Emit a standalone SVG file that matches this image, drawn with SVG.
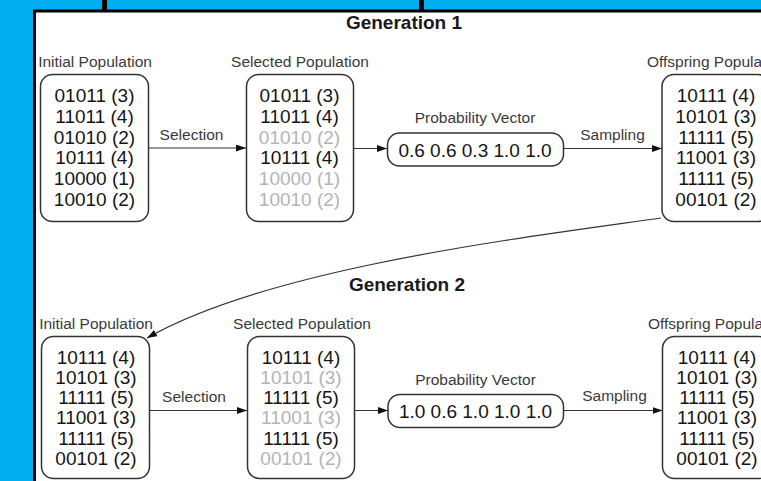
<svg xmlns="http://www.w3.org/2000/svg" width="761" height="481" viewBox="0 0 761 481">
  <style>
    .box { fill: #ffffff; stroke: #333333; stroke-width: 1.5; }
    .lbl { font-family: "Liberation Sans", Arial, sans-serif; font-size: 15.5px; fill: #3a3a3a; text-anchor: middle; }
    .row { font-family: "Liberation Sans", Arial, sans-serif; font-size: 19px; fill: #151515; text-anchor: middle; }
    .dim { fill: #b4b4b4; }
    .gen { font-family: "Liberation Sans", Arial, sans-serif; font-size: 19px; font-weight: bold; fill: #1a1a1a; text-anchor: middle; }
    .edge { fill: none; stroke: #333333; stroke-width: 1.2; }
  </style>
  <defs>
    <marker id="head" viewBox="0 0 10 7" refX="10" refY="3.5" markerWidth="10" markerHeight="7" markerUnits="userSpaceOnUse" orient="auto">
      <path d="M0,0 L10,3.5 L0,7 z" fill="#111111"/>
    </marker>
  </defs>

  <!-- backdrop and frame -->
  <rect x="0" y="0" width="761" height="481" fill="#00adee"/>
  <rect x="102" y="0" width="5" height="11" fill="#000000"/>
  <rect x="419" y="0" width="5" height="11" fill="#000000"/>
  <rect x="34.5" y="11" width="800" height="520" fill="#ffffff" stroke="#000000" stroke-width="3"/>

  <!-- generation titles -->
  <text class="gen" x="404" y="28.5">Generation 1</text>
  <text class="gen" x="407" y="290.5">Generation 2</text>

  <!-- connectors -->
  <g id="connectors">
    <line class="edge" x1="148.5" y1="148" x2="246" y2="148" marker-end="url(#head)"/>
    <line class="edge" x1="353.5" y1="148.5" x2="387" y2="148.5" marker-end="url(#head)"/>
    <line class="edge" x1="563.5" y1="148.5" x2="662" y2="148.5" marker-end="url(#head)"/>
    <path class="edge" d="M661,218 C520,238 270,268 147,338" marker-end="url(#head)"/>
    <line class="edge" x1="149.5" y1="410.5" x2="247" y2="410.5" marker-end="url(#head)"/>
    <line class="edge" x1="355" y1="410.5" x2="388" y2="410.5" marker-end="url(#head)"/>
    <line class="edge" x1="563.5" y1="410.5" x2="662.5" y2="410.5" marker-end="url(#head)"/>
    <text class="lbl" x="191.5" y="140">Selection</text>
    <text class="lbl" x="612.5" y="140">Sampling</text>
    <text class="lbl" x="194" y="402">Selection</text>
    <text class="lbl" x="614.5" y="401">Sampling</text>
  </g>

  <!-- generation 1 -->
  <g id="g1-initial">
    <text class="lbl" x="95" y="66.5">Initial Population</text>
    <rect class="box" x="40.5" y="74.5" width="108" height="147" rx="12"/>
    <text class="row" x="94.5" y="102">01011 (3)</text>
    <text class="row" x="94.5" y="122.8">11011 (4)</text>
    <text class="row" x="94.5" y="143.6">01010 (2)</text>
    <text class="row" x="94.5" y="164.4">10111 (4)</text>
    <text class="row" x="94.5" y="185.2">10000 (1)</text>
    <text class="row" x="94.5" y="206">10010 (2)</text>
  </g>
  <g id="g1-selected">
    <text class="lbl" x="300" y="66.5">Selected Population</text>
    <rect class="box" x="246.5" y="74.5" width="107" height="147" rx="12"/>
    <text class="row" x="299.5" y="102">01011 (3)</text>
    <text class="row" x="299.5" y="122.8">11011 (4)</text>
    <text class="row dim" x="299.5" y="143.6">01010 (2)</text>
    <text class="row" x="299.5" y="164.4">10111 (4)</text>
    <text class="row dim" x="299.5" y="185.2">10000 (1)</text>
    <text class="row dim" x="299.5" y="206">10010 (2)</text>
  </g>
  <g id="g1-vector">
    <text class="lbl" x="475" y="123">Probability Vector</text>
    <rect class="box" x="387.5" y="133" width="176" height="33" rx="12"/>
    <text class="row" x="475" y="156.5">0.6 0.6 0.3 1.0 1.0</text>
  </g>
  <g id="g1-offspring">
    <text class="lbl" x="717" y="66.5">Offspring Population</text>
    <rect class="box" x="662" y="74.5" width="108" height="147" rx="12"/>
    <text class="row" x="716" y="102">10111 (4)</text>
    <text class="row" x="716" y="122.8">10101 (3)</text>
    <text class="row" x="716" y="143.6">11111 (5)</text>
    <text class="row" x="716" y="164.4">11001 (3)</text>
    <text class="row" x="716" y="185.2">11111 (5)</text>
    <text class="row" x="716" y="206">00101 (2)</text>
  </g>

  <!-- generation 2 -->
  <g id="g2-initial">
    <text class="lbl" x="96" y="328.5">Initial Population</text>
    <rect class="box" x="41.5" y="336.5" width="108" height="142" rx="12"/>
    <text class="row" x="96" y="363.5">10111 (4)</text>
    <text class="row" x="96" y="383.8">10101 (3)</text>
    <text class="row" x="96" y="404.1">11111 (5)</text>
    <text class="row" x="96" y="424.4">11001 (3)</text>
    <text class="row" x="96" y="444.7">11111 (5)</text>
    <text class="row" x="96" y="465">00101 (2)</text>
  </g>
  <g id="g2-selected">
    <text class="lbl" x="302" y="328.5">Selected Population</text>
    <rect class="box" x="247.5" y="336.5" width="107" height="142" rx="12"/>
    <text class="row" x="301" y="363.5">10111 (4)</text>
    <text class="row dim" x="301" y="383.8">10101 (3)</text>
    <text class="row" x="301" y="404.1">11111 (5)</text>
    <text class="row dim" x="301" y="424.4">11001 (3)</text>
    <text class="row" x="301" y="444.7">11111 (5)</text>
    <text class="row dim" x="301" y="465">00101 (2)</text>
  </g>
  <g id="g2-vector">
    <text class="lbl" x="475.5" y="385">Probability Vector</text>
    <rect class="box" x="388" y="394.5" width="175.5" height="33" rx="12"/>
    <text class="row" x="475.5" y="418">1.0 0.6 1.0 1.0 1.0</text>
  </g>
  <g id="g2-offspring">
    <text class="lbl" x="718" y="328.5">Offspring Population</text>
    <rect class="box" x="662.5" y="336.5" width="108" height="142" rx="12"/>
    <text class="row" x="717" y="363.5">10111 (4)</text>
    <text class="row" x="717" y="383.8">10101 (3)</text>
    <text class="row" x="717" y="404.1">11111 (5)</text>
    <text class="row" x="717" y="424.4">11001 (3)</text>
    <text class="row" x="717" y="444.7">11111 (5)</text>
    <text class="row" x="717" y="465">00101 (2)</text>
  </g>
</svg>
